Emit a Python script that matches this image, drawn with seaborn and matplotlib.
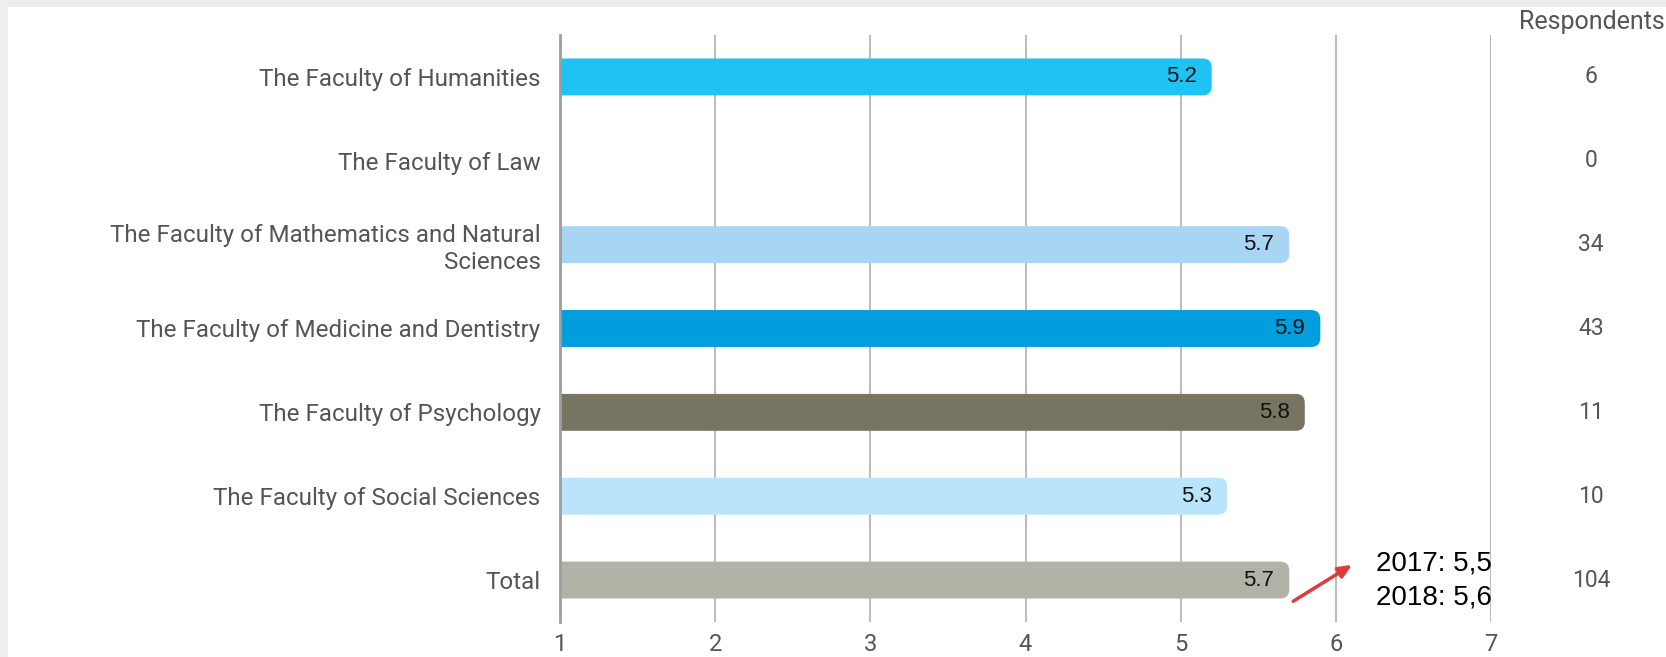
import matplotlib
matplotlib.use("Agg")
import matplotlib.pyplot as plt
import matplotlib.transforms as mtransforms
from matplotlib.patches import FancyBboxPatch, Rectangle
import seaborn as sns
import pandas as pd
import numpy as np

faculties = [
    "The Faculty of Humanities",
    "The Faculty of Law",
    "The Faculty of Mathematics and Natural\nSciences",
    "The Faculty of Medicine and Dentistry",
    "The Faculty of Psychology",
    "The Faculty of Social Sciences",
    "Total",
]
scores = [5.2, np.nan, 5.7, 5.9, 5.8, 5.3, 5.7]
respondents = [6, 0, 34, 43, 11, 10, 104]
barColors = ["#1fc3f3", "#ffffff", "#a9d5f5", "#009ddf", "#777461", "#b9e4f9", "#b3b2a7"]
xTicks = [1, 2, 3, 4, 5, 6, 7]
note = "2017: 5,5\n2018: 5,6"

df = pd.DataFrame({"faculty": faculties, "score": scores})

sns.set_style("white")
plt.rcParams["font.family"] = ["Roboto", "DejaVu Sans"]

fig = plt.figure(figsize=(16.66, 6.57), dpi=100)
fig.patch.set_facecolor("white")
# light grey frame at the top and left
fig.add_artist(Rectangle((0, 1 - 7 / 657), 1, 7 / 657, transform=fig.transFigure,
                         color="#ececec", lw=0, zorder=-5))
fig.add_artist(Rectangle((0, 0), 8 / 1666, 1, transform=fig.transFigure,
                         color="#eeeeee", lw=0, zorder=-5))

ax = fig.add_axes([560 / 1666, 35 / 657, 931 / 1666, 587 / 657])

sns.barplot(data=df, x="score", y="faculty", hue="faculty", palette=barColors,
            legend=False, width=0.44, saturation=1, ax=ax, orient="h")

ax.set_xlim(1, 7)
ax.set_ylim(len(faculties) - 0.5, -0.5)

# swap plain rectangles for right-rounded bars
pxPerX = 931 / 6
pxPerY = 587 / len(faculties)
for p in list(ax.patches):
    w = p.get_width()
    if not np.isfinite(w) or w <= 0:
        p.remove()
        continue
    x0, y0, h = p.get_x(), p.get_y(), p.get_height()
    fc = p.get_facecolor()
    p.remove()
    radius = 9 / pxPerX
    fb = FancyBboxPatch((x0 - 0.3, y0), w + 0.3, h,
                        boxstyle=f"round,pad=0,rounding_size={radius}",
                        mutation_aspect=pxPerX / pxPerY,
                        facecolor=fc, edgecolor="none", zorder=3)
    ax.add_patch(fb)

for i, v in enumerate(scores):
    if np.isfinite(v):
        ax.text(v - 0.097, i, f"{v:.1f}", ha="right", va="center", fontsize=16,
                color="#111111", family=["Liberation Sans", "DejaVu Sans"], zorder=4)

# grid and axes styling
ax.set_xticks(xTicks)
ax.set_xticklabels([str(t) for t in xTicks])
ax.grid(axis="x", color="#bdbdbd", lw=1.5, zorder=0)
ax.set_axisbelow(True)
for s in ["top", "right", "bottom"]:
    ax.spines[s].set_visible(False)
ax.spines["left"].set_color("#9e9e9e")
ax.spines["left"].set_linewidth(2)
ax.spines["left"].set_zorder(5)
ax.tick_params(axis="x", length=0, pad=8, labelsize=17, labelcolor="#555555")
ax.tick_params(axis="y", length=0, pad=14, labelsize=17.4, labelcolor="#555555")
ax.set_xlabel("")
ax.set_ylabel("")
for lab in ax.get_yticklabels():
    lab.set_horizontalalignment("right")
    lab.set_multialignment("right")

# respondents column
trans = mtransforms.blended_transform_factory(fig.transFigure, ax.transData)
ax.text(1592 / 1666, 1 - 22 / 657, "Respondents", transform=fig.transFigure,
        ha="center", va="center", fontsize=18, color="#555555")
for i, n in enumerate(respondents):
    ax.text(1591 / 1666, i, str(n), transform=trans, ha="center", va="center",
            fontsize=16.5, color="#555555")

# previous years note with arrow
ax.annotate("", xy=(6.12, 5.80), xytext=(5.71, 6.27),
            arrowprops=dict(arrowstyle="-|>,head_length=0.8,head_width=0.35",
                            color="#e03a3c", lw=2.5), annotation_clip=False, zorder=6)
ax.text(6.26, 6.0, note, ha="left", va="center", fontsize=20, color="black",
        family=["Liberation Sans", "DejaVu Sans"], linespacing=1.4, zorder=6)

fig.savefig("out.png", dpi=100)
